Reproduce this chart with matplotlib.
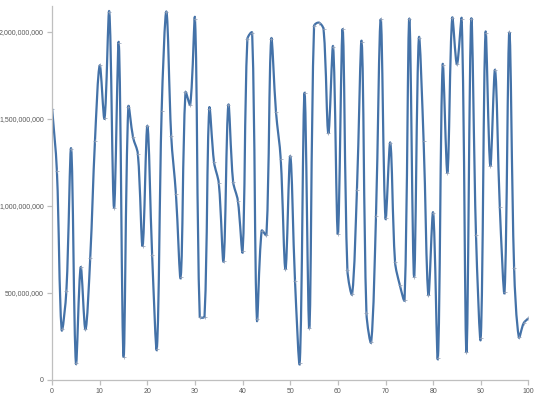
import numpy as np
import matplotlib
matplotlib.use('Agg')
import matplotlib.pyplot as plt
from matplotlib.path import Path
from matplotlib.patches import PathPatch
from matplotlib.ticker import FuncFormatter

# values in millions, one per index 0..100
x = list(range(101))
values = [1559, 1204, 290, 514, 1329, 96, 648, 290, 700, 1375,
          1808, 1503, 2117, 990, 1937, 134, 1569, 1394, 1300, 771,
          1461, 719, 180, 1546, 2117, 1405, 1068, 590, 1653, 1582,
          2075, 364, 364, 1560, 1251, 1130, 684, 1579, 1140, 1031,
          740, 1960, 1996, 350, 858, 833, 1958, 1542, 1270, 636,
          1287, 569, 100, 1651, 297, 2034, 2054, 2015, 1418, 1916,
          839, 2017, 632, 494, 1092, 1944, 383, 218, 943, 2073,
          929, 1364, 680, 546, 460, 2077, 594, 1964, 1374, 489,
          962, 125, 1810, 1192, 2080, 1814, 2073, 159, 2073, 833,
          240, 1996, 1232, 1782, 992, 508, 1998, 646, 245, 326,
          354]

xs = np.array(x, dtype=float)
ys = np.array(values, dtype=float) * 1e6

line_color = '#4472a8'
axis_color = '#bfbfbf'
text_color = '#595959'

fig = plt.figure(figsize=(5.4, 3.97), dpi=100)
ax = fig.add_axes([0.0965, 0.043, 0.882, 0.942])
ax.set_xlim(0, 100)
ax.set_ylim(0, 2.15e9)

# smoothed line (bezier through the points, tangents weighted by segment length on screen)
pix = ax.transData.transform(np.column_stack([xs, ys]))
n = len(xs)
tangents = []
for i in range(n):
    a = max(i - 1, 0)
    b = min(i + 1, n - 1)
    tangents.append((xs[b] - xs[a], ys[b] - ys[a]))
seg = [np.hypot(*(pix[i + 1] - pix[i])) for i in range(n - 1)]

verts = [(xs[0], ys[0])]
codes = [Path.MOVETO]
for i in range(n - 1):
    d_prev = seg[i - 1] if i > 0 else seg[i]
    d_next = seg[i + 1] if i + 1 < n - 1 else seg[i]
    f1 = seg[i] / (d_prev + seg[i]) / 3
    f2 = seg[i] / (seg[i] + d_next) / 3
    c1 = (xs[i] + tangents[i][0] * f1, ys[i] + tangents[i][1] * f1)
    c2 = (xs[i + 1] - tangents[i + 1][0] * f2, ys[i + 1] - tangents[i + 1][1] * f2)
    verts += [c1, c2, (xs[i + 1], ys[i + 1])]
    codes += [Path.CURVE4] * 3
ax.add_patch(PathPatch(Path(verts, codes), facecolor='none',
                       edgecolor=line_color, lw=1.6, capstyle='round',
                       joinstyle='round'))
ax.plot(xs, ys, linestyle='none', marker='+', ms=3, mew=0.5,
        color='#8d9db5')

ax.set_xticks(range(0, 101, 10))
ax.set_yticks([0, 5e8, 1e9, 1.5e9, 2e9])
ax.yaxis.set_major_formatter(FuncFormatter(lambda v, p: f'{int(v):,}'))

for s in ['top', 'right']:
    ax.spines[s].set_visible(False)
for s in ['left', 'bottom']:
    ax.spines[s].set_color(axis_color)
    ax.spines[s].set_linewidth(0.9)
ax.tick_params(colors=axis_color, length=3.5, width=0.9, pad=2.5,
               labelcolor=text_color, labelsize=5)
for lab in ax.get_xticklabels() + ax.get_yticklabels():
    lab.set_family('Liberation Sans')

fig.savefig('out.png', dpi=100)
